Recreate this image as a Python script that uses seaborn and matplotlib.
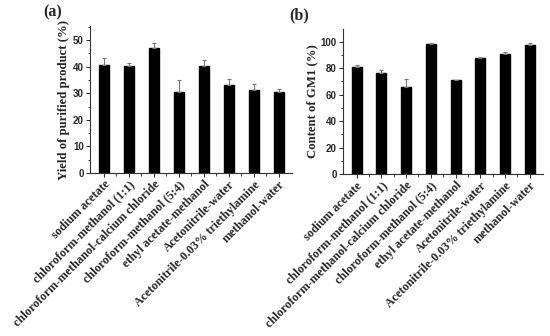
import matplotlib
matplotlib.use("Agg")
import matplotlib.pyplot as plt
import numpy as np
import pandas as pd
import seaborn as sns
from matplotlib.ticker import MultipleLocator, FixedLocator

# ------------------------------------------------------------
# Data
# ------------------------------------------------------------
solvents = [
    "sodium acetate",
    "chloroform-methanol (1:1)",
    "chloroform-methanol-calcium chloride",
    "chloroform-methanol (5:4)",
    "ethyl acetate-methanol",
    "Acetonitrile-water",
    "Acetonitrile-0.03% triethylamine",
    "methanol-water",
]
yield_mean = [40.6, 40.3, 47.2, 30.4, 40.3, 33.2, 31.4, 30.3]
yield_err  = [2.6, 1.2, 1.8, 4.5, 2.3, 2.0, 2.0, 1.5]
gm1_mean   = [81.0, 76.3, 65.5, 98.1, 70.7, 87.3, 90.3, 97.2]
gm1_err    = [1.5, 2.1, 6.0, 1.2, 0.5, 1.0, 1.5, 1.5]

sns.set_style("ticks")
plt.rcParams["font.family"] = ["Liberation Serif", "DejaVu Serif"]

fig = plt.figure(figsize=(5.5, 3.36), dpi=100)
ax_a = fig.add_axes([0.1636, 0.485, 0.367, 0.4375])
ax_b = fig.add_axes([0.6236, 0.482, 0.3636, 0.4315])


def draw_panel(ax, mean, err, ylim, ystep, ylabel, tag, tag_x):
    df = pd.DataFrame({"solvent": solvents, "value": mean})
    sns.barplot(data=df, x="solvent", y="value", color="black",
                width=0.4, saturation=1, ax=ax, edgecolor="black")
    x = np.arange(len(solvents))
    ax.errorbar(x, mean, yerr=[np.zeros(len(err)), err], fmt="none",
                ecolor="#777777", elinewidth=0.8, capsize=1.6, capthick=0.8)

    ax.set_xlim(-0.55, len(solvents) - 0.47)
    ax.set_ylim(*ylim)
    ax.yaxis.set_major_locator(MultipleLocator(ystep))
    ax.yaxis.set_minor_locator(MultipleLocator(ystep / 2))
    ax.xaxis.set_minor_locator(FixedLocator(x[:-1] + 0.5))
    sns.despine(ax=ax)
    for s in ["left", "bottom"]:
        ax.spines[s].set_linewidth(0.8)
        ax.spines[s].set_color("#333333")

    ax.tick_params(axis="both", which="major", length=3, width=0.7, direction="out")
    ax.tick_params(axis="both", which="minor", length=1.8, width=0.6, direction="out")
    ax.tick_params(axis="x", pad=1)
    ax.tick_params(axis="y", pad=1.5)

    ax.set_xticks(x)
    ax.set_xticklabels(solvents, rotation=45, ha="right", rotation_mode="anchor",
                       fontsize=8.7, fontweight="bold")
    for lbl in ax.get_yticklabels():
        lbl.set_family(["Liberation Sans", "DejaVu Sans"])
        lbl.set_fontweight("bold")
        lbl.set_fontsize(7)
    ax.set_xlabel("")
    ax.set_ylabel(ylabel, fontsize=9.2, fontweight="bold", labelpad=2)
    ax.text(tag_x, 1.04, tag, transform=ax.transAxes, fontsize=11.5,
            fontweight="bold", ha="left", va="bottom")


draw_panel(ax_a, yield_mean, yield_err, (0, 55.3), 10,
           "Yield of purified product (%)", "(a)", -0.23)
draw_panel(ax_b, gm1_mean, gm1_err, (0, 109.5), 20,
           "Content of GM1 (%)", "(b)", -0.27)

fig.savefig("out.png", dpi=100)
